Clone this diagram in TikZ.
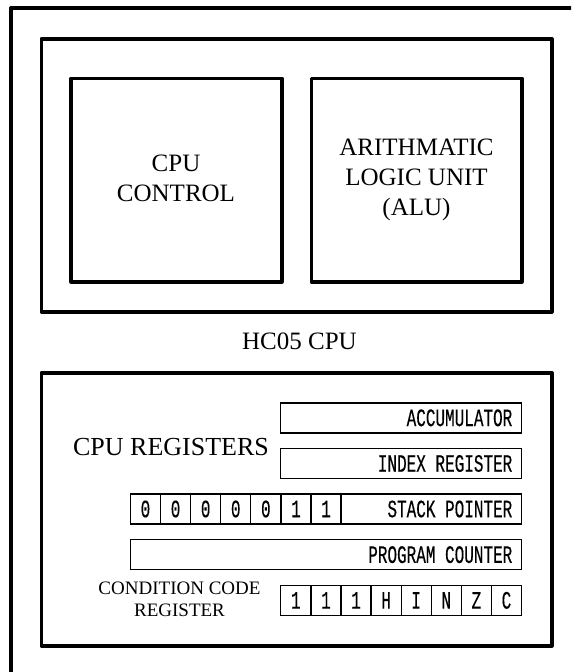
\documentclass[tikz,border=0pt]{standalone}
\usepackage{fontspec}
\setmainfont{Liberation Serif}
\newfontfamily\regfont[FakeStretch=0.64,FakeBold=0.3]{Liberation Mono}
\begin{document}
\begin{tikzpicture}[x=1pt,y=-1pt,
  frame/.style={draw,line width=3.6pt,line join=round},
  blk/.style={frame,inner sep=0pt,outer sep=0pt},
  regbox/.style={draw,line width=1.3pt,inner sep=0pt,outer sep=0pt,minimum height=30pt,font=\regfont\fontsize{25}{25}\selectfont},
  cell/.style={regbox,minimum width=30.1pt},
  reglabel/.style={inner sep=0pt,anchor=east,font=\regfont\fontsize{25}{25}\selectfont},
  big/.style={font=\fontsize{25}{30}\selectfont,align=center,inner sep=0pt},
  small/.style={font=\fontsize{19}{22.3}\selectfont,align=center,inner sep=0pt}]
\useasboundingbox (0,0) rectangle (571,672);
\begin{scope}
\clip (0,0) rectangle (571,672);
\draw[frame] (10.8,8) rectangle (620,720);
\end{scope}
% top block
\node[blk,minimum width=510.2pt,minimum height=273pt] (top) at (296.6,175.2) {};
\node[blk,minimum width=210.7pt,minimum height=203.4pt] (ctl) at (176.35,180) {};
\node[blk,minimum width=210.7pt,minimum height=203.4pt] (alu) at (416.65,180) {};
\node[big] (ctlt) at (176,178.5) {CPU\\CONTROL};
\node[big] (alut) at (416.5,180.3) {ARITHMATIC\\LOGIC UNIT\\(ALU)};
\node[big] (hc) at (299.5,341.3) {HC05 CPU};
% registers block
\node[blk,minimum width=510.2pt,minimum height=273pt] (regs) at (296.6,509.2) {};
\node[big,font=\fontsize{26}{30}\selectfont] (regt) at (171,447.5) {CPU REGISTERS};
\node[regbox,minimum width=240.7pt] (acc) at (401.15,417.85) {};
\node[reglabel] (acct) at ([xshift=-9pt]acc.east) {ACCUMULATOR};
\node[regbox,minimum width=240.7pt] (ix) at (401.15,463.5) {};
\node[reglabel] (ixt) at ([xshift=-9pt]ix.east) {INDEX REGISTER};
% stack pointer
\node[cell] (s1) at (145.45,509) {0};
\node[cell] (s2) at (175.55,509) {0};
\node[cell] (s3) at (205.65,509) {0};
\node[cell] (s4) at (235.75,509) {0};
\node[cell] (s5) at (265.85,509) {0};
\node[cell] (s6) at (295.95,509) {1};
\node[cell] (s7) at (326.05,509) {1};
\node[regbox,minimum width=180.3pt] (sp) at (431.35,509) {};
\node[reglabel] (spt) at ([xshift=-9pt]sp.east) {STACK POINTER};
% program counter
\node[regbox,minimum width=391.1pt] (pc) at (325.95,554.65) {};
\node[reglabel] (pct) at ([xshift=-9pt]pc.east) {PROGRAM COUNTER};
% condition code register
\node[small] (ccrt) at (179.5,599.5) {CONDITION CODE\\REGISTER};
\node[cell] (c1) at (295.85,600.35) {1};
\node[cell] (c2) at (325.94,600.35) {1};
\node[cell] (c3) at (356.03,600.35) {1};
\node[cell] (c4) at (386.12,600.35) {H};
\node[cell] (c5) at (416.21,600.35) {I};
\node[cell] (c6) at (446.30,600.35) {N};
\node[cell] (c7) at (476.39,600.35) {Z};
\node[cell] (c8) at (506.48,600.35) {C};
\end{tikzpicture}
\end{document}
